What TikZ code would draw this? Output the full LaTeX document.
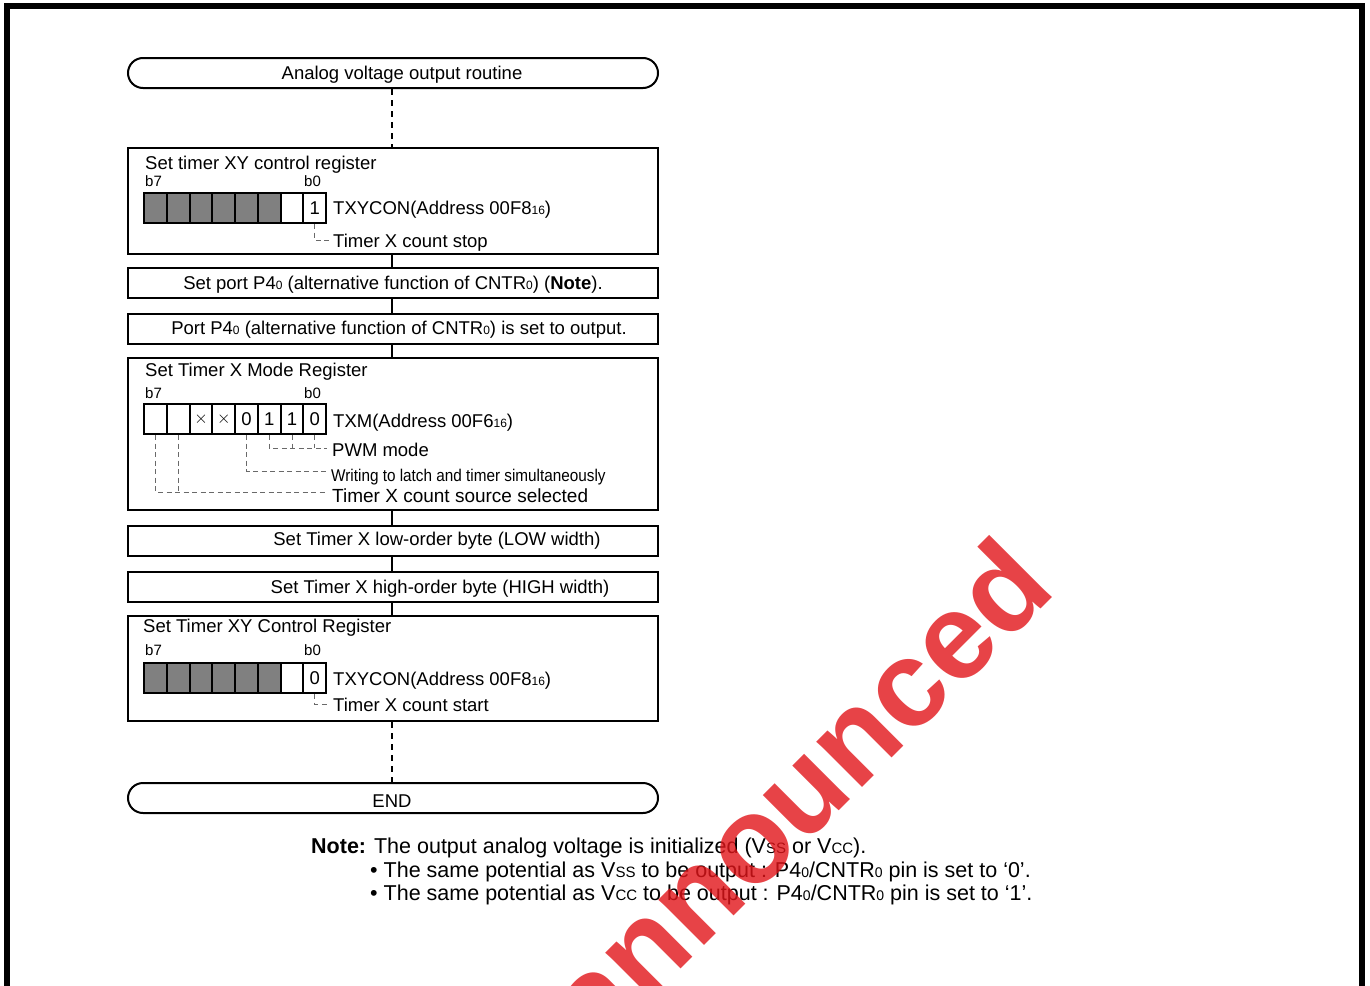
\documentclass[tikz,border=0pt]{standalone}
\usepackage{fontspec}
\setmainfont{Liberation Sans}
\usepackage{graphicx}
\definecolor{wm}{RGB}{225,20,25}
\definecolor{cellgray}{RGB}{128,128,128}
\definecolor{leadgray}{RGB}{105,105,105}
\newcommand{\fs}[1]{\fontsize{#1}{#1}\selectfont}
\newcommand{\lo}[2][12]{{\fontsize{#1}{#1}\selectfont #2}}
\begin{document}
\begin{tikzpicture}[x=1pt,y=-1pt,
  box/.style={draw, line width=2pt, minimum width=530pt, anchor=north west, inner sep=0pt},
  term/.style={box, rounded corners=15pt, minimum height=30pt},
  txt/.style={anchor=base west, inner sep=0pt, font=\fs{18.5}},
  ctxt/.style={anchor=base, inner sep=0pt, font=\fs{18.5}},
  bitlbl/.style={anchor=base west, inner sep=0pt, font=\fs{15}},
  cell/.style={draw, line width=2.2pt, minimum width=22.75pt, minimum height=30pt, inner sep=0pt, anchor=north west, font=\fs{18.5}},
  gcell/.style={cell, fill=cellgray},
  link/.style={line width=1.5pt},
  dlink/.style={line width=1.5pt, dash pattern=on 6pt off 5pt},
  lead/.style={line width=0.9pt, draw=leadgray, dash pattern=on 5pt off 3.5pt},
]
\useasboundingbox (0,0) rectangle (1370,985);
% frame
\draw[line width=6pt] (7,995) -- (7,6.3) -- (1362,6.3) -- (1362,995);

% boxes
\node[term] (start) at (127,57) {};
\node[box, minimum height=106pt] (b1) at (127,147) {};
\node[box, minimum height=30pt] (b2) at (127,267) {};
\node[box, minimum height=30pt] (b3) at (127,313) {};
\node[box, minimum height=152pt] (b4) at (127,357) {};
\node[box, minimum height=30pt] (b5) at (127,525) {};
\node[box, minimum height=30pt] (b6) at (127,571) {};
\node[box, minimum height=105pt] (b7) at (127,615) {};
\node[term] (end) at (127,782) {};

% connectors
\coordinate (cx) at (392,0);
\draw[dlink] (start.south -| cx) -- (b1.north -| cx);
\draw[link] (b1.south -| cx) -- (b2.north -| cx);
\draw[link] (b2.south -| cx) -- (b3.north -| cx);
\draw[link] (b3.south -| cx) -- (b4.north -| cx);
\draw[link] (b4.south -| cx) -- (b5.north -| cx);
\draw[link] (b5.south -| cx) -- (b6.north -| cx);
\draw[link] (b6.south -| cx) -- (b7.north -| cx);
\draw[dlink] (b7.south -| cx) -- (end.north -| cx);

% simple texts
\node[ctxt] (tstart) at (402,79.6) {Analog voltage output routine};
\node[ctxt] (t2) at (393,289.6) {Set port P4\lo{0} (alternative function of CNTR\lo{0}) (\textbf{Note}).};
\node[ctxt] (t3) at (399,334.6) {Port P4\lo{0} (alternative function of CNTR\lo{0}) is set to output.};
\node[ctxt] (t5) at (437,545.6) {Set Timer X low-order byte (LOW width)};
\node[ctxt] (t6) at (440,593.6) {Set Timer X high-order byte (HIGH width)};
\node[ctxt] (tend) at (392,807.6) {END};

% ---- box 1
\node[txt] (t1) at (145,169.6) {Set timer XY control register};
\node[bitlbl] (a7) at (145,186.5) {b7};
\node[bitlbl] (a0) at (304,186.5) {b0};
\foreach \i in {0,...,5} \node[gcell] (ra\i) at ({143+\i*22.75},192) {};
\node[cell] (ra6) at ({143+6*22.75},192) {};
\node[cell] (ra7) at ({143+7*22.75},192) {1};
\node[txt] (ta) at (333,214.6) {TXYCON(Address 00F8\lo{16})};
\node[txt] (sa) at (333,247.6) {Timer X count stop};
\coordinate (la) at (330,240);
\draw[lead] (ra7.south) |- (la);

% ---- box 4
\node[txt] (t4) at (145,376.6) {Set Timer X Mode Register};
\node[bitlbl] (c7) at (145,398.5) {b7};
\node[bitlbl] (c0) at (304,398.5) {b0};
\foreach \i/\v in {0/{},1/{},2/{$\times$},3/{$\times$},4/0,5/1,6/1,7/0}
  \node[cell] (rb\i) at ({143+\i*22.75},403) {\v};
\node[txt] (tb) at (333,427.6) {TXM(Address 00F6\lo{16})};
\node[txt] (pwm) at (332,456.6) {PWM mode};
\node[anchor=base west, inner sep=0pt, font=\fs{17}] (wr) at (331,481) {\scalebox{0.9}[1]{Writing to latch and timer simultaneously}};
\node[anchor=base west, inner sep=0pt, font=\fs{19}] (src) at (332,502) {Timer X count source selected};
\coordinate (lpwm) at (327,448);
\coordinate (lwr) at (327,471);
\coordinate (lsrc) at (327,492);
\draw[lead] (rb5.south) |- (lpwm);
\draw[lead] (rb6.south) -- (rb6.south |- lpwm);
\draw[lead] (rb7.south) -- (rb7.south |- lpwm);
\draw[lead] (rb4.south) |- (lwr);
\draw[lead] (rb0.south) |- (lsrc);
\draw[lead] (rb1.south) -- (rb1.south |- lsrc);

% ---- box 7
\node[txt] (t7) at (143,632.6) {Set Timer XY Control Register};
\node[bitlbl] (d7) at (145,655.5) {b7};
\node[bitlbl] (d0) at (304,655.5) {b0};
\foreach \i in {0,...,5} \node[gcell] (rc\i) at ({143+\i*22.75},662) {};
\node[cell] (rc6) at ({143+6*22.75},662) {};
\node[cell] (rc7) at ({143+7*22.75},662) {0};
\node[txt] (tc) at (333,685.6) {TXYCON(Address 00F8\lo{16})};
\node[txt] (sc) at (333,711.6) {Timer X count start};
\coordinate (lc) at (330,704);
\draw[lead] (rc7.south) |- (lc);

% ---- note
\node[anchor=base west, inner sep=0pt, font=\fs{21.5}] (note) at (311,853.7)
  {\textbf{Note:} The output analog voltage is initialized (V\lo[15]{SS} or V\lo[15]{CC}).};
\node[anchor=base west, inner sep=0pt, font=\fs{21.5}] (n1) at (370,877.7)
  {• The same potential as V\lo[15]{SS} to be output : P4\lo[14]{0}/CNTR\lo[14]{0} pin is set to ‘0’.};
\node[anchor=base west, inner sep=0pt, font=\fs{21.5}] (n2) at (370,900.7)
  {• The same potential as V\lo[15]{CC} to be output : P4\lo[14]{0}/CNTR\lo[14]{0} pin is set to ‘1’.};

% ---- watermark
\begin{scope}
\clip (0,0) rectangle (1370,985);
\node[rotate=45, anchor=base east, text=wm, opacity=0.8, inner sep=0pt,
      font=\fontsize{122}{122}\selectfont\bfseries] (wmk) at (1058,592) {Unannounced};
\end{scope}
\end{tikzpicture}
\end{document}
